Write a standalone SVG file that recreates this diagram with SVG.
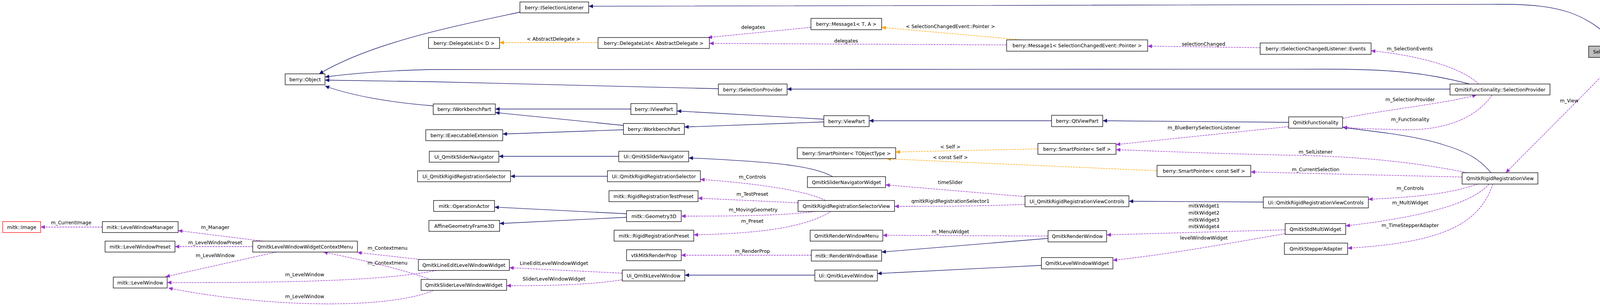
<svg xmlns="http://www.w3.org/2000/svg" width="4269" height="783" viewBox="0 0 4269 783">
<style>
.n rect{fill:#fff;stroke:#000;stroke-width:1.3}
.n text,.l{font-family:"DejaVu Sans",sans-serif;font-size:12.4px;text-anchor:middle;fill:#000}
.i{fill:none;stroke:#191970;stroke-width:1.3}
.u{fill:none;stroke:#9a32cd;stroke-width:1.3;stroke-dasharray:5,2}
.t{fill:none;stroke:#ffa500;stroke-width:1.3;stroke-dasharray:5,2}
</style>
<defs>
<marker id="ai" markerUnits="userSpaceOnUse" markerWidth="12" markerHeight="10" refX="11" refY="5" orient="auto"><path d="M0,0 L11,5 L0,10 Z" fill="#191970"/></marker>
<marker id="au" markerUnits="userSpaceOnUse" markerWidth="12" markerHeight="10" refX="11" refY="5" orient="auto"><path d="M0,0 L11,5 L0,10 Z" fill="#9a32cd"/></marker>
<marker id="at" markerUnits="userSpaceOnUse" markerWidth="12" markerHeight="10" refX="11" refY="5" orient="auto"><path d="M0,0 L11,5 L0,10 Z" fill="#ffa500"/></marker>
</defs>
<rect width="4269" height="783" fill="#fff"/>
<g id="edges">
<path class="i" marker-end="url(#ai)" d="M4144,118 C4060,30 3990,11 3840,11 L1507,16"/>
<path class="i" marker-end="url(#ai)" d="M1331,31 C1150,70 950,110 817,189"/>
<path class="i" marker-end="url(#ai)" d="M3762,215 C3650,185 3550,177 3400,177 L1100,178 C1000,180 900,188 832,197"/>
<path class="i" marker-end="url(#ai)" d="M1839,227 L1100,209 L832,205"/>
<path class="i" marker-end="url(#ai)" d="M3712,228 L2015,228"/>
<path class="i" marker-end="url(#ai)" d="M1109,271 L1100,270 C1000,262 900,245 832,220"/>
<path class="i" marker-end="url(#ai)" d="M1615,279 L1268,279"/>
<path class="i" marker-end="url(#ai)" d="M1596,321 L1268,288"/>
<path class="i" marker-end="url(#ai)" d="M1596,332 L1287,343"/>
<path class="i" marker-end="url(#ai)" d="M2109,305 L1733,284"/>
<path class="i" marker-end="url(#ai)" d="M2109,312 L1752,325"/>
<path class="i" marker-end="url(#ai)" d="M2692,309 L2225,309"/>
<path class="i" marker-end="url(#ai)" d="M3299,313 L2823,309"/>
<path class="i" marker-end="url(#ai)" d="M3817,442 C3790,410 3760,390 3700,372 C3620,345 3500,335 3438,326"/>
<path class="u" marker-end="url(#au)" d="M4148,147 L3855,442"/>
<path class="u" marker-end="url(#au)" d="M3785,215 C3740,170 3620,140 3510,130"/>
<path class="u" marker-end="url(#au)" d="M3437,303 C3550,280 3700,265 3780,243"/>
<path class="u" marker-end="url(#au)" d="M3820,243 C3780,300 3700,340 3560,331 C3500,330 3460,328 3438,325"/>
<path class="u" marker-end="url(#au)" d="M3226,122 L2938,118"/>
<path class="u" marker-end="url(#au)" d="M2577,115 L1816,111"/>
<path class="u" marker-end="url(#au)" d="M2076,70 L1812,96"/>
<path class="t" marker-end="url(#at)" d="M2615,102 L2257,70"/>
<path class="t" marker-end="url(#at)" d="M1531,109 L1279,109"/>
<path class="u" marker-end="url(#au)" d="M3299,324 L2857,370"/>
<path class="u" marker-end="url(#au)" d="M3756,442 C3650,420 3500,400 3300,397 C3100,393 2950,386 2857,383"/>
<path class="t" marker-end="url(#at)" d="M2657,381 L2293,389"/>
<path class="t" marker-end="url(#at)" d="M2962,437 C2700,425 2450,415 2270,406"/>
<path class="u" marker-end="url(#au)" d="M3743,453 L3202,440"/>
<path class="u" marker-end="url(#au)" d="M3783,471 C3700,500 3600,505 3503,510"/>
<path class="i" marker-end="url(#ai)" d="M3234,517 L2890,515"/>
<path class="u" marker-end="url(#au)" d="M3812,471 C3760,530 3600,560 3445,578"/>
<path class="u" marker-end="url(#au)" d="M3822,471 C3790,560 3720,620 3450,635"/>
<path class="u" marker-end="url(#au)" d="M3290,588 L2833,601"/>
<path class="u" marker-end="url(#au)" d="M3290,598 C3160,620 3000,650 2849,666"/>
<path class="i" marker-end="url(#ai)" d="M2683,610 L2257,645"/>
<path class="u" marker-end="url(#au)" d="M2683,604 L2260,602"/>
<path class="i" marker-end="url(#ai)" d="M2666,679 L2246,700"/>
<path class="u" marker-end="url(#au)" d="M2624,503 L2267,473"/>
<path class="u" marker-end="url(#au)" d="M2624,523 C2500,528 2400,528 2290,528"/>
<path class="i" marker-end="url(#ai)" d="M2132,452 C2080,425 2000,415 1763,404"/>
<path class="i" marker-end="url(#ai)" d="M1584,400 L1277,400"/>
<path class="i" marker-end="url(#ai)" d="M1555,451 L1307,451"/>
<path class="u" marker-end="url(#au)" d="M2113,513 C2070,490 1950,470 1793,459"/>
<path class="u" marker-end="url(#au)" d="M2043,519 L1787,507"/>
<path class="u" marker-end="url(#au)" d="M2087,541 C2000,553 1850,553 1744,553"/>
<path class="u" marker-end="url(#au)" d="M2127,541 C2050,590 1900,598 1776,601"/>
<path class="i" marker-end="url(#ai)" d="M1604,547 L1266,530"/>
<path class="i" marker-end="url(#ai)" d="M1604,556 L1279,572"/>
<path class="u" marker-end="url(#au)" d="M2077,653 L1744,653"/>
<path class="i" marker-end="url(#ai)" d="M2086,704 L1753,704"/>
<path class="u" marker-end="url(#au)" d="M1593,699 L1304,685"/>
<path class="u" marker-end="url(#au)" d="M1593,716 C1500,730 1400,731 1297,731"/>
<path class="u" marker-end="url(#au)" d="M1076,664 L915,646"/>
<path class="u" marker-end="url(#au)" d="M1097,713 C1000,680 900,660 828,645"/>
<path class="u" marker-end="url(#au)" d="M1117,692 C1000,715 800,724 428,723"/>
<path class="u" marker-end="url(#au)" d="M1110,743 C1000,790 700,790 431,737"/>
<path class="u" marker-end="url(#au)" d="M707,645 L424,708"/>
<path class="u" marker-end="url(#au)" d="M647,631 L448,631"/>
<path class="u" marker-end="url(#au)" d="M673,617 L456,590"/>
<path class="u" marker-end="url(#au)" d="M262,581 L104,581"/>
<text class="l" x="1417" y="104">&lt; AbstractDelegate &gt;</text>
<text class="l" x="1928" y="74">delegates</text>
<text class="l" x="2166" y="109">delegates</text>
<text class="l" x="2433" y="72">&lt; SelectionChangedEvent::Pointer &gt;</text>
<text class="l" x="3081" y="117">selectionChanged</text>
<text class="l" x="3609" y="129">m_SelectionEvents</text>
<text class="l" x="3610" y="259">m_SelectionProvider</text>
<text class="l" x="3610" y="310">m_Functionality</text>
<text class="l" x="4017" y="262">m_View</text>
<text class="l" x="3368" y="393">m_SelListener</text>
<text class="l" x="3082" y="331">m_BlueBerrySelectionListener</text>
<text class="l" x="2433" y="380">&lt; Self &gt;</text>
<text class="l" x="2433" y="407">&lt; const Self &gt;</text>
<text class="l" x="3368" y="438">m_CurrentSelection</text>
<text class="l" x="3610" y="486">m_Controls</text>
<text class="l" x="3610" y="523">m_MultiWidget</text>
<text class="l" x="3610" y="581">m_TimeStepperAdapter</text>
<text class="l" x="2433" y="471">timeSlider</text>
<text class="l" x="2433" y="519">qmitkRigidRegistrationSelector1</text>
<text class="l" x="3082" y="531">mitkWidget1</text>
<text class="l" x="3082" y="549">mitkWidget2</text>
<text class="l" x="3082" y="567">mitkWidget3</text>
<text class="l" x="3082" y="584">mitkWidget4</text>
<text class="l" x="2433" y="597">m_MenuWidget</text>
<text class="l" x="3082" y="613">levelWindowWidget</text>
<text class="l" x="1926" y="457">m_Controls</text>
<text class="l" x="1926" y="501">m_TestPreset</text>
<text class="l" x="1928" y="541">m_MovingGeometry</text>
<text class="l" x="1926" y="570">m_Preset</text>
<text class="l" x="1926" y="647">m_RenderProp</text>
<text class="l" x="1418" y="678">LineEditLevelWindowWidget</text>
<text class="l" x="1418" y="718">SliderLevelWindowWidget</text>
<text class="l" x="182" y="574">m_CurrentImage</text>
<text class="l" x="551" y="586">m_Manager</text>
<text class="l" x="551" y="625">m_LevelWindowPreset</text>
<text class="l" x="551" y="658">m_LevelWindow</text>
<text class="l" x="992" y="639">m_Contextmenu</text>
<text class="l" x="992" y="677">m_Contextmenu</text>
<text class="l" x="780" y="707">m_LevelWindow</text>
<text class="l" x="780" y="763">m_LevelWindow</text>
</g>
<g id="n1" class="n"><rect x="4067" y="118" width="197" height="29" style="fill:#bfbfbf"/><text x="4165.5" y="137">SelListenerRigidRegistration</text></g>
<g id="n2" class="n"><rect x="1331" y="5" width="176" height="28"/><text x="1419" y="23.5">berry::ISelectionListener</text></g>
<g id="n3" class="n"><rect x="730" y="189" width="102" height="28"/><text x="781" y="207.5">berry::Object</text></g>
<g id="n4" class="n"><rect x="2076" y="47" width="181" height="29"/><text x="2166.5" y="66">berry::Message1&lt; T, A &gt;</text></g>
<g id="n5" class="n"><rect x="1097" y="96" width="182" height="28"/><text x="1188" y="114.5">berry::DelegateList&lt; D &gt;</text></g>
<g id="n6" class="n"><rect x="1531" y="96" width="285" height="28"/><text x="1673.5" y="114.5">berry::DelegateList&lt; AbstractDelegate &gt;</text></g>
<g id="n7" class="n"><rect x="2577" y="102" width="361" height="29"/><text x="2757.5" y="121">berry::Message1&lt; SelectionChangedEvent::Pointer &gt;</text></g>
<g id="n8" class="n"><rect x="3226" y="110" width="284" height="29"/><text x="3368" y="129">berry::ISelectionChangedListener::Events</text></g>
<g id="n9" class="n"><rect x="1839" y="215" width="176" height="28"/><text x="1927" y="233.5">berry::ISelectionProvider</text></g>
<g id="n10" class="n"><rect x="3712" y="215" width="256" height="28"/><text x="3840" y="233.5">QmitkFunctionality::SelectionProvider</text></g>
<g id="n11" class="n"><rect x="1109" y="266" width="159" height="27"/><text x="1188.5" y="284">berry::IWorkbenchPart</text></g>
<g id="n12" class="n"><rect x="1615" y="265" width="118" height="28"/><text x="1674" y="283.5">berry::IViewPart</text></g>
<g id="n13" class="n"><rect x="1596" y="316" width="156" height="28"/><text x="1674" y="334.5">berry::WorkbenchPart</text></g>
<g id="n14" class="n"><rect x="1090" y="332" width="197" height="28"/><text x="1188.5" y="350.5">berry::IExecutableExtension</text></g>
<g id="n15" class="n"><rect x="2109" y="296" width="116" height="28"/><text x="2167" y="314.5">berry::ViewPart</text></g>
<g id="n16" class="n"><rect x="2692" y="295" width="131" height="29"/><text x="2757.5" y="314">berry::QtViewPart</text></g>
<g id="n17" class="n"><rect x="3299" y="299" width="138" height="29"/><text x="3368" y="318">QmitkFunctionality</text></g>
<g id="n18" class="n"><rect x="2041" y="378" width="252" height="28"/><text x="2167" y="396.5">berry::SmartPointer&lt; TObjectType &gt;</text></g>
<g id="n19" class="n"><rect x="2657" y="367" width="200" height="28"/><text x="2757" y="385.5">berry::SmartPointer&lt; Self &gt;</text></g>
<g id="n20" class="n"><rect x="2962" y="423" width="240" height="29"/><text x="3082" y="442">berry::SmartPointer&lt; const Self &gt;</text></g>
<g id="n21" class="n"><rect x="3743" y="442" width="194" height="29"/><text x="3840" y="461">QmitkRigidRegistrationView</text></g>
<g id="n22" class="n"><rect x="1099" y="387" width="178" height="28"/><text x="1188" y="405.5">Ui_QmitkSliderNavigator</text></g>
<g id="n23" class="n"><rect x="1584" y="387" width="179" height="27"/><text x="1673.5" y="405">Ui::QmitkSliderNavigator</text></g>
<g id="n24" class="n"><rect x="2067" y="452" width="200" height="28"/><text x="2167" y="470.5">QmitkSliderNavigatorWidget</text></g>
<g id="n25" class="n"><rect x="1069" y="437" width="238" height="28"/><text x="1188" y="455.5">Ui_QmitkRigidRegistrationSelector</text></g>
<g id="n26" class="n"><rect x="1555" y="437" width="238" height="28"/><text x="1674" y="455.5">Ui::QmitkRigidRegistrationSelector</text></g>
<g id="n27" class="n"><rect x="1559" y="488" width="228" height="28"/><text x="1673" y="506.5">mitk::RigidRegistrationTestPreset</text></g>
<g id="n28" class="n"><rect x="2043" y="513" width="247" height="28"/><text x="2166.5" y="531.5">QmitkRigidRegistrationSelectorView</text></g>
<g id="n29" class="n"><rect x="2624" y="501" width="266" height="28"/><text x="2757" y="519.5">Ui_QmitkRigidRegistrationViewControls</text></g>
<g id="n30" class="n"><rect x="3234" y="504" width="269" height="28"/><text x="3368.5" y="522.5">Ui::QmitkRigidRegistrationViewControls</text></g>
<g id="n31" class="n"><rect x="1110" y="513" width="156" height="28"/><text x="1188" y="531.5">mitk::OperationActor</text></g>
<g id="n32" class="n"><rect x="1604" y="539" width="140" height="28"/><text x="1674" y="557.5">mitk::Geometry3D</text></g>
<g id="n33" class="n"><rect x="1098" y="564" width="181" height="28"/><text x="1188.5" y="582.5">AffineGeometryFrame3D</text></g>
<g id="n34" class="n"><rect x="1572" y="589" width="204" height="28"/><text x="1674" y="607.5">mitk::RigidRegistrationPreset</text></g>
<g id="n35" class="n"><rect x="2074" y="589" width="186" height="28"/><text x="2167" y="607.5">QmitkRenderWindowMenu</text></g>
<g id="n36" class="n"><rect x="2683" y="590" width="150" height="29"/><text x="2758" y="609">QmitkRenderWindow</text></g>
<g id="n37" class="n"><rect x="3290" y="572" width="155" height="28"/><text x="3367.5" y="590.5">QmitkStdMultiWidget</text></g>
<g id="n38" class="n"><rect x="3288" y="622" width="162" height="29"/><text x="3369" y="641">QmitkStepperAdapter</text></g>
<g id="n39" class="n"><rect x="1604" y="639" width="140" height="28"/><text x="1674" y="657.5">vtkMitkRenderProp</text></g>
<g id="n40" class="n"><rect x="2077" y="640" width="180" height="28"/><text x="2167" y="658.5">mitk::RenderWindowBase</text></g>
<g id="n41" class="n"><rect x="2666" y="659" width="183" height="29"/><text x="2757.5" y="678">QmitkLevelWindowWidget</text></g>
<g id="n42" class="n"><rect x="1593" y="691" width="160" height="28"/><text x="1673" y="709.5">Ui_QmitkLevelWindow</text></g>
<g id="n43" class="n"><rect x="2086" y="691" width="160" height="28"/><text x="2166" y="709.5">Ui::QmitkLevelWindow</text></g>
<g id="n44" class="n"><rect x="1071" y="664" width="233" height="28"/><text x="1187.5" y="682.5">QmitkLineEditLevelWindowWidget</text></g>
<g id="n45" class="n"><rect x="1078" y="715" width="219" height="28"/><text x="1187.5" y="733.5">QmitkSliderLevelWindowWidget</text></g>
<g id="n46" class="n"><rect x="7" y="567" width="97" height="28" style="stroke:#ff0000"/><text x="55.5" y="585.5">mitk::Image</text></g>
<g id="n47" class="n"><rect x="262" y="567" width="194" height="28"/><text x="359" y="585.5">mitk::LevelWindowManager</text></g>
<g id="n48" class="n"><rect x="269" y="617" width="179" height="28"/><text x="358.5" y="635.5">mitk::LevelWindowPreset</text></g>
<g id="n49" class="n"><rect x="647" y="617" width="268" height="28"/><text x="781" y="635.5">QmitkLevelWindowWidgetContextMenu</text></g>
<g id="n50" class="n"><rect x="290" y="709" width="138" height="28"/><text x="359" y="727.5">mitk::LevelWindow</text></g>
</svg>
